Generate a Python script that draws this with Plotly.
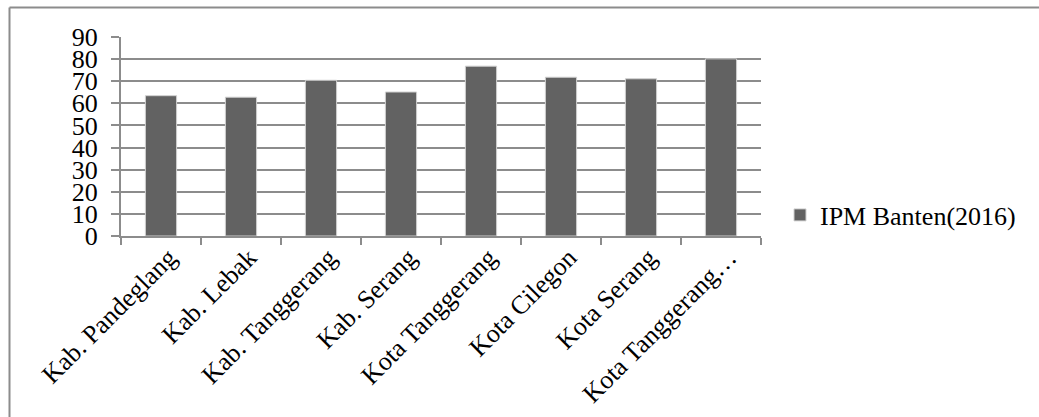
import plotly.graph_objects as go

categories = ["Kab. Pandeglang", "Kab. Lebak", "Kab. Tanggerang", "Kab. Serang",
              "Kota Tanggerang", "Kota Cilegon", "Kota Serang", "Kota Tanggerang…"]
values = [63.45, 62.78, 70.44, 65.12, 76.81, 71.81, 71.09, 80.11]
series_name = "IPM Banten(2016)"
y_ticks = [0, 10, 20, 30, 40, 50, 60, 70, 80, 90]

W, H = 1039, 417
L, R, T, B = 121, 761, 37, 236

fig = go.Figure()
fig.add_trace(go.Bar(
    x=categories, y=values, name=series_name,
    marker=dict(color="#626262", line=dict(color="#d0d0d0", width=1)),
    showlegend=True,
))

font = dict(family="Liberation Serif, Times New Roman, serif", size=26, color="#000000")

def px_x(p):
    return (p - L) / (R - L)

def px_y(p):
    return (B - p) / (B - T)

fig.update_layout(
    width=W, height=H,
    margin=dict(l=L, r=W - R, t=T, b=H - B, autoexpand=False),
    paper_bgcolor="white", plot_bgcolor="white",
    font=font,
    bargap=0.61,
    showlegend=True,
    legend=dict(x=px_x(780), y=px_y(215), xanchor="left", yanchor="middle",
                font=font, bgcolor="rgba(0,0,0,0)", itemwidth=30),
    xaxis=dict(
        type="category", tickangle=-45, showgrid=False, automargin=False,
        showline=True, linecolor="#8c8c8c", linewidth=2,
        ticks="outside", ticklen=7, tickcolor="#8c8c8c", tickwidth=2,
        tickson="boundaries", tickfont=font, ticklabelstandoff=-6,
        ticklabelshift=8,
    ),
    yaxis=dict(
        range=[0, 90], tickvals=y_ticks, showgrid=True, gridcolor="#8c8c8c", gridwidth=2,
        showline=True, linecolor="#8c8c8c", linewidth=2, automargin=False,
        ticks="outside", ticklen=8, tickcolor="#8c8c8c", tickwidth=2,
        tickfont=font, zeroline=False, ticklabelstandoff=8,
    ),
    shapes=[
        dict(type="line", xref="paper", yref="paper",
             x0=px_x(9.5), x1=px_x(1045), y0=px_y(7.5), y1=px_y(7.5),
             line=dict(color="#8c8c8c", width=2)),
        dict(type="line", xref="paper", yref="paper",
             x0=px_x(9.5), x1=px_x(9.5), y0=px_y(7.5), y1=px_y(425),
             line=dict(color="#8c8c8c", width=2)),
    ],
)

fig.write_html("out.html")
